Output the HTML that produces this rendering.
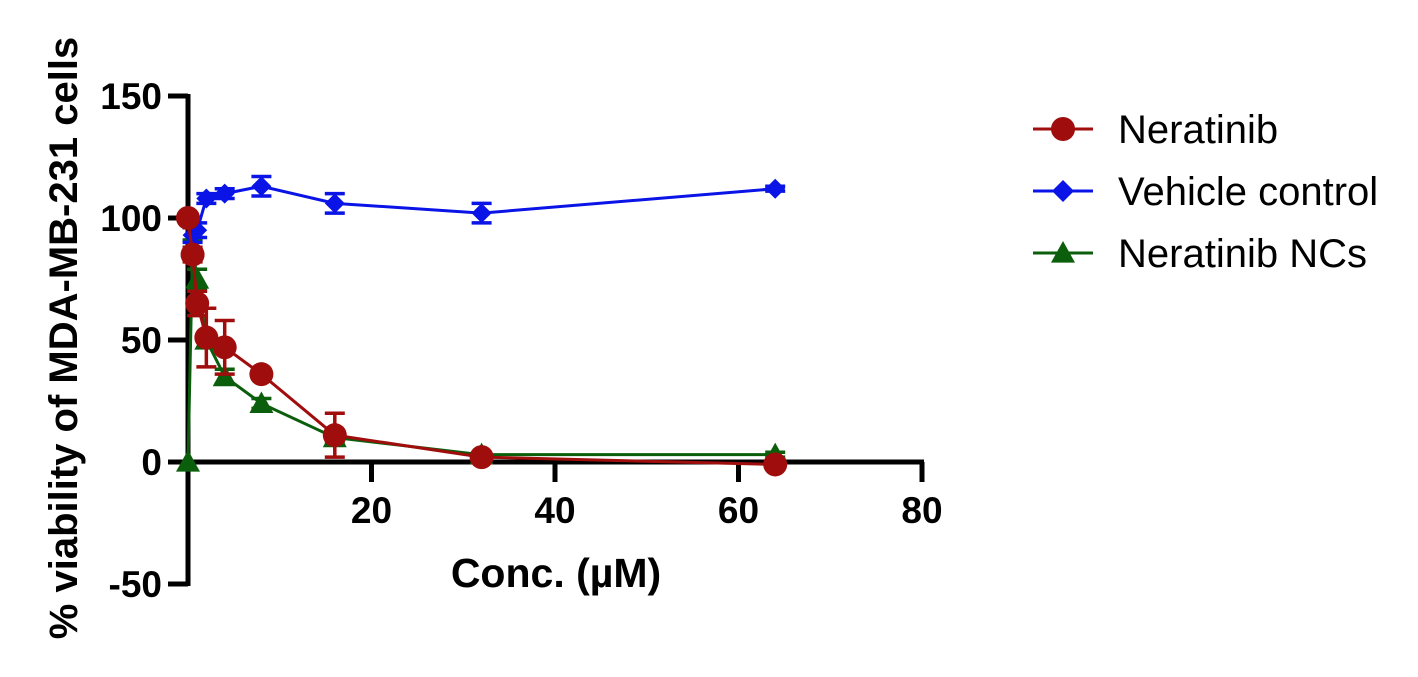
<!DOCTYPE html>
<html><head><meta charset="utf-8"><style>body{margin:0;background:#fff}svg{display:block}text{font-family:"Liberation Sans",Arial,sans-serif}</style></head>
<body>
<svg id="chart" width="1418" height="677" viewBox="0 0 1418 677"></svg>
<script>
const concs=[0,0.5,1,2,4,8,16,32,64];
const neratinib=[100,85,65,51,47,36,11,2,-1];
const neratinibErr=[2,3,5,12,11,2,9,1,1];
const vehicleX=[0.5,1,2,4,8,16,32,64];
const vehicle=[93,95,108,110,113,106,102,112];
const vehicleErr=[3,3,2,2,4,4,4,1];
const ncs=[0,88,75,50,35,24,10,3,3];
const ncsErr=[0,3,4,3,3,2,2,1,1];
const xTicks=[20,40,60,80];
const yTicks=[-50,0,50,100,150];
const NS="http://www.w3.org/2000/svg";
const svg=document.getElementById('chart');
const X=v=>188+v*(922-188)/80;
const Y=v=>462-v*2.44;
function el(t,a,p){const e=document.createElementNS(NS,t);for(const k in a)e.setAttribute(k,a[k]);(p||svg).appendChild(e);return e;}
const ax=el('g',{});

el('line',{x1:188,y1:Y(150)-2,x2:188,y2:Y(-50)+2,stroke:'#000','stroke-width':5},ax);
el('line',{x1:186,y1:462,x2:922+2,y2:462,stroke:'#000','stroke-width':5},ax);
yTicks.forEach(t=>{el('line',{x1:168,y1:Y(t),x2:188,y2:Y(t),stroke:'#000','stroke-width':5},ax);
const tx=el('text',{x:162,y:Y(t)+13,'text-anchor':'end','font-size':37,'font-weight':'bold'},ax);tx.textContent=t;
});
xTicks.forEach(t=>{el('line',{x1:X(t),y1:462,x2:X(t),y2:482,stroke:'#000','stroke-width':5},ax);
const tx=el('text',{x:X(t),y:523,'text-anchor':'middle','font-size':37,'font-weight':'bold'},ax);tx.textContent=t;
});
const xt=el('text',{x:556,y:587,'text-anchor':'middle','font-size':41,'font-weight':'bold'});xt.textContent='Conc. (µM)';

const yt=el('text',{x:0,y:0,transform:'translate(77,338) rotate(-90)','text-anchor':'middle','font-size':40,'font-weight':'bold'});yt.textContent='% viability of MDA-MB-231 cells';

function marker(g,shape,x,y,c,s){
 if(shape==='circle')el('circle',{cx:x,cy:y,r:s,fill:c},g);
 else if(shape==='diamond')el('polygon',{points:`${x},${y-s} ${x+s},${y} ${x},${y+s} ${x-s},${y}`,fill:c},g);
 else el('polygon',{points:`${x},${y-s} ${x+s},${y+s*0.8} ${x-s},${y+s*0.8}`,fill:c},g);
}
function series(name,xs,ys,es,c,shape,s){
 const g=el('g',{});
 el('polyline',{points:xs.map((x,i)=>X(x)+','+Y(ys[i])).join(' '),fill:'none',stroke:c,'stroke-width':3},g);
 xs.forEach((x,i)=>{if(es[i]>0){const px=X(x),y1=Y(ys[i]+es[i]),y2=Y(ys[i]-es[i]);
  el('path',{d:`M${px},${y1}V${y2}M${px-10},${y1}H${px+10}M${px-10},${y2}H${px+10}`,stroke:c,'stroke-width':3.5,fill:'none'},g);}});
 xs.forEach((x,i)=>marker(g,shape,X(x),Y(ys[i]),c,s));
}
series('neratinib-nc-series',concs,ncs,ncsErr,'#0b5e0b','triangle',12);
series('vehicle-series',vehicleX,vehicle,vehicleErr,'#0a14e6','diamond',10);
series('neratinib-series',concs,neratinib,neratinibErr,'#a00d0d','circle',12);
const leg=[['Neratinib','#a00d0d','circle'],['Vehicle control','#0a14e6','diamond'],['Neratinib NCs','#0b5e0b','triangle']];
leg.forEach((l,i)=>{const g=el('g',{});
 const y=129+i*62;el('line',{x1:1033,y1:y,x2:1093,y2:y,stroke:l[1],'stroke-width':3},g);
 marker(g,l[2],1063,y,l[1],l[2]==='diamond'?11:12);
 const t=el('text',{x:1118,y:y+14,'font-size':40},g);t.textContent=l[0];});
</script>
</body></html>
